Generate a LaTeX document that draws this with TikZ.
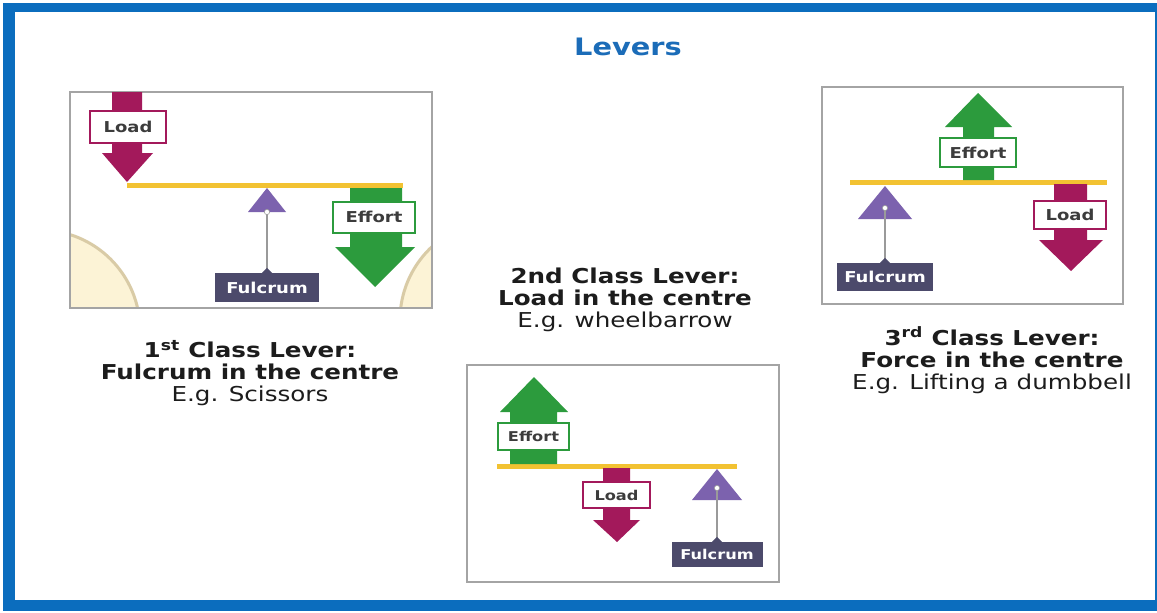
\documentclass[tikz,border=0pt]{standalone}
\usepackage{fontspec}
\setmainfont{DejaVu Sans}[FakeStretch=1.2]
\definecolor{frameblue}{HTML}{0B6DBE}
\definecolor{titleblue}{HTML}{1B6CB8}
\definecolor{panelgray}{HTML}{A4A4A4}
\definecolor{beamyellow}{HTML}{F2C232}
\definecolor{loadred}{HTML}{A3195B}
\definecolor{effortgreen}{HTML}{2C9B3D}
\definecolor{pivotpurple}{HTML}{7C62AE}
\definecolor{fulcrumslate}{HTML}{4C4A6B}
\definecolor{stemgray}{HTML}{9A9A9A}
\definecolor{tagtext}{HTML}{3C3C3C}
\definecolor{captext}{HTML}{1C1C1C}
\definecolor{palefill}{HTML}{FCF3D6}
\definecolor{paleedge}{HTML}{D9CBA6}
\tikzset{
  panel/.style={draw=panelgray,line width=1.5pt},
  beam/.style={draw=beamyellow,line width=5pt},
  tag/.style={draw,fill=white,line width=2pt,inner sep=0pt,text=tagtext,
    font=\fontsize{15}{18}\selectfont\bfseries},
  loadtag/.style={tag,draw=loadred},
  efforttag/.style={tag,draw=effortgreen},
  fulcrumtag/.style={fill=fulcrumslate,inner sep=0pt,text=white,
    font=\fontsize{15}{18}\selectfont\bfseries},
  smalltext/.style={font=\fontsize{13.5}{16}\selectfont\bfseries},
  stem/.style={draw=stemgray,line width=1.3pt},
  pivot/.style={fill=white,draw=stemgray,line width=0.6pt},
  caption/.style={align=center,text=captext,font=\fontsize{20.5}{22}\selectfont},
}
\begin{document}
\begin{tikzpicture}[x=1pt,y=-1pt]
    \useasboundingbox (0,0) rectangle (1157,613);
    % outer frame
    \fill[white] (0,0) rectangle (1157,613);
    \fill[frameblue] (3,3) rectangle (1157,611);
    \fill[white] (15,12) rectangle (1154.5,600);
    \node[text=titleblue,font=\fontsize{24}{28}\selectfont\bfseries] (title) at (628,47) {Levers};

    % ---- 1st class lever ----
    \fill[white] (70,92) rectangle (432,308);
    \begin{scope}
        \clip (70,92) rectangle (432,308);
        \filldraw[fill=palefill,draw=paleedge,line width=3pt] (40,330) circle (100pt);
        \filldraw[fill=palefill,draw=paleedge,line width=3pt] (500,320) circle (100pt);
    \end{scope}
    \draw[panel] (70,92) rectangle (432,308);
    \draw[beam] (127,185) -- (403,185);
    % load arrow (down)
    \fill[loadred] (112,92) -- (142,92) -- (142,153) -- (153,153) -- (127,182) -- (102,153) -- (112,153) -- cycle;
    \node[loadtag,minimum width=76pt,minimum height=32pt] (load1) at (128,127) {Load};
    % effort arrow (down)
    \fill[effortgreen] (350,188) -- (402,188) -- (402,247) -- (415,247) -- (375,287) -- (335,247) -- (350,247) -- cycle;
    \node[efforttag,minimum width=82pt,minimum height=31pt] (effort1) at (374,217) {Effort};
    % fulcrum
    \fill[pivotpurple] (267,188) -- (286,212) -- (248,212) -- cycle;
    \node[fulcrumtag,minimum width=104pt,minimum height=29pt] (fulcrum1) at (267,287.5) {Fulcrum};
    \coordinate (pin1) at (267,212);
    \draw[stem] (pin1) -- (fulcrum1.north);
    \fill[fulcrumslate] ([xshift=-5pt]fulcrum1.north) -- ([yshift=5pt]fulcrum1.north) -- ([xshift=5pt]fulcrum1.north) -- cycle;
    \filldraw[pivot] (pin1) circle (2.6pt);
    \node[caption] (cap1) at (250,373) {\textbf{1\textsuperscript{st} Class Lever:}\\\textbf{Fulcrum in the centre}\\E.g. Scissors};

    % ---- 2nd class lever ----
    \filldraw[panel,fill=white] (467,365) rectangle (779,582);
    \draw[beam] (497,466) -- (737,466);
    % effort arrow (up)
    \fill[effortgreen] (510,464) -- (557,464) -- (557,412) -- (568,412) -- (534,377) -- (500,412) -- (510,412) -- cycle;
    \node[efforttag,smalltext,minimum width=71pt,minimum height=27pt] (effort2) at (533.5,436.5) {Effort};
    % load arrow (down)
    \fill[loadred] (603,468) -- (630,468) -- (630,520) -- (640,520) -- (617,542) -- (593,520) -- (603,520) -- cycle;
    \node[loadtag,smalltext,minimum width=67pt,minimum height=26pt] (load2) at (616.5,495) {Load};
    % fulcrum
    \fill[pivotpurple] (717,469) -- (742,500) -- (692,500) -- cycle;
    \node[fulcrumtag,smalltext,minimum width=91pt,minimum height=25pt] (fulcrum2) at (717,554.5) {Fulcrum};
    \coordinate (pin2) at (717,488);
    \draw[stem] (pin2) -- (fulcrum2.north);
    \fill[fulcrumslate] ([xshift=-5pt]fulcrum2.north) -- ([yshift=5pt]fulcrum2.north) -- ([xshift=5pt]fulcrum2.north) -- cycle;
    \filldraw[pivot] (pin2) circle (2.6pt);
    \node[caption] (cap2) at (625,300) {\textbf{2nd Class Lever:}\\\textbf{Load in the centre}\\E.g. wheelbarrow};

    % ---- 3rd class lever ----
    \filldraw[panel,fill=white] (822,87) rectangle (1123,304);
    \draw[beam] (850,182) -- (1107,182);
    % effort arrow (up)
    \fill[effortgreen] (963,180) -- (994,180) -- (994,127) -- (1012,127) -- (978,93) -- (945,127) -- (963,127) -- cycle;
    \node[efforttag,minimum width=76pt,minimum height=29pt] (effort3) at (978,152.5) {Effort};
    % load arrow (down)
    \fill[loadred] (1054,184) -- (1087,184) -- (1087,240) -- (1103,240) -- (1071,271) -- (1039,240) -- (1054,240) -- cycle;
    \node[loadtag,minimum width=72pt,minimum height=28pt] (load3) at (1070,215) {Load};
    % fulcrum
    \fill[pivotpurple] (885,186) -- (912,219) -- (858,219) -- cycle;
    \node[fulcrumtag,minimum width=96pt,minimum height=28pt] (fulcrum3) at (885,277) {Fulcrum};
    \coordinate (pin3) at (885,208);
    \draw[stem] (pin3) -- (fulcrum3.north);
    \fill[fulcrumslate] ([xshift=-5pt]fulcrum3.north) -- ([yshift=5pt]fulcrum3.north) -- ([xshift=5pt]fulcrum3.north) -- cycle;
    \filldraw[pivot] (pin3) circle (2.6pt);
    \node[caption] (cap3) at (992,360) {\textbf{3\textsuperscript{rd} Class Lever:}\\\textbf{Force in the centre}\\E.g. Lifting a dumbbell};
\end{tikzpicture}
\end{document}
